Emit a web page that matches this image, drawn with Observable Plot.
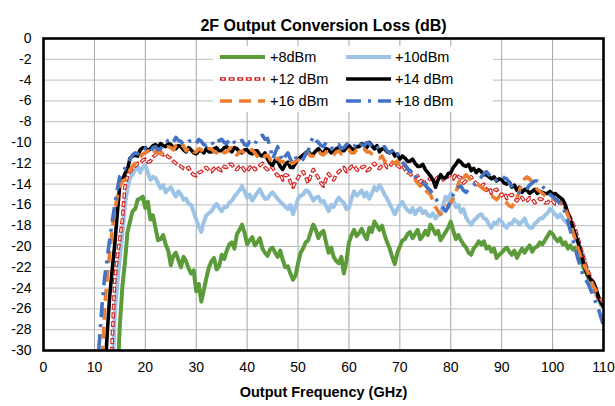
<!DOCTYPE html>
<html><head><meta charset="utf-8">
<script src="https://cdn.jsdelivr.net/npm/d3@7"></script>
<script src="https://cdn.jsdelivr.net/npm/@observablehq/plot@0.6"></script>
<style>
body{margin:0;background:#fff}
#chart{position:relative;width:615px;height:406px}
</style>
</head><body><div id="chart"></div>
<script>
const title = "2F Output Conversion Loss (dB)";
const xLabel = "Output Frequency (GHz)";
const xTicks = [0,10,20,30,40,50,60,70,80,90,100,110];
const yTicks = [0,-2,-4,-6,-8,-10,-12,-14,-16,-18,-20,-22,-24,-26,-28,-30];
const seriesNames = ["+8dBm","+10dBm","+12 dBm","+14 dBm","+16 dBm","+18 dBm"];

const freq = [10,10.5,11,11.5,12,12.5,13,13.5,14,14.5,15,15.5,16,16.5,17,17.5,18,18.5,19,19.5,
 20,20.5,21,21.5,22,22.5,23,23.5,24,24.5,25,25.5,26,26.5,27,27.5,28,28.5,29,29.5,
 30,30.5,31,31.5,32,32.5,33,33.5,34,34.5,35,35.5,36,36.5,37,37.5,38,38.5,39,39.5,
 40,40.5,41,41.5,42,42.5,43,43.5,44,44.5,45,45.5,46,46.5,47,47.5,48,48.5,49,49.5,
 50,50.5,51,51.5,52,52.5,53,53.5,54,54.5,55,55.5,56,56.5,57,57.5,58,58.5,59,59.5,
 60,60.5,61,61.5,62,62.5,63,63.5,64,64.5,65,65.5,66,66.5,67,67.5,68,68.5,69,69.5,
 70,70.5,71,71.5,72,72.5,73,73.5,74,74.5,75,75.5,76,76.5,77,77.5,78,78.5,79,79.5,
 80,80.5,81,81.5,82,82.5,83,83.5,84,84.5,85,85.5,86,86.5,87,87.5,88,88.5,89,89.5,
 90,90.5,91,91.5,92,92.5,93,93.5,94,94.5,95,95.5,96,96.5,97,97.5,98,98.5,99,99.5,
 100,100.5,101,101.5,102,102.5,103,103.5,104,104.5,105,105.5,106,106.5,107,107.5,108,108.5,109,109.5,110];

const p8 = [null,null,null,null,null,null,null,null,-40,-33,-27.5,-23.8,-21.5,-18.6,-17.6,-16.6,-16.4,-15.5,-15.4,-15.2,
 -16.3,-15.7,-17.4,-17.0,-18.2,-19.4,-19.3,-18.9,-19.8,-20.4,-21.8,-20.9,-20.6,-21.3,-22.0,-21.0,-21.4,-22.1,-22.6,-22.3,
 -24.3,-23.6,-25.3,-24.2,-23.0,-22.0,-21.4,-21.1,-22.2,-21.9,-20.8,-21.2,-20.4,-19.8,-19.6,-20.2,-18.8,-18.4,-17.9,-18.7,
 -19.8,-19.4,-19.1,-19.9,-19.6,-19.2,-20.2,-20.6,-20.9,-20.3,-20.1,-20.6,-21.0,-20.4,-21.3,-22.0,-21.9,-22.6,-23.2,-22.8,
 -21.6,-20.6,-20.2,-19.6,-19.4,-18.6,-17.9,-18.4,-19.2,-18.7,-18.5,-19.6,-20.6,-20.1,-21.0,-21.4,-21.6,-21.0,-22.6,-21.4,
 -19.6,-18.9,-18.4,-19.0,-18.7,-18.3,-18.9,-19.3,-18.2,-18.6,-17.6,-18.0,-18.4,-18.0,-18.9,-19.6,-20.2,-21.0,-21.7,-20.6,
 -20.0,-19.4,-19.3,-18.8,-18.6,-19.2,-18.8,-18.4,-19.3,-19.0,-18.5,-18.9,-17.9,-18.3,-18.8,-18.5,-19.4,-19.0,-18.6,-18.2,
 -17.6,-18.5,-19.3,-18.9,-19.4,-19.8,-20.1,-20.6,-20.8,-20.2,-19.9,-19.5,-19.8,-19.5,-20.2,-20.0,-20.5,-20.2,-21.1,-20.8,
 -20.6,-20.3,-20.1,-20.5,-20.8,-20.4,-21.1,-20.6,-20.2,-20.6,-20.2,-19.9,-20.5,-20.1,-20.0,-19.6,-19.8,-19.4,-19.0,-18.6,
 -18.8,-19.2,-19.5,-19.2,-19.8,-19.6,-20.2,-19.9,-20.3,-20.1,-20.6,-21.0,-22.0,-22.4,-23.0,-23.8,-24.2,-24.5,-25.0,-25.6,-25.8];

const p10 = [null,null,null,null,null,null,-40,-33,-26.5,-23.6,-21.0,-18.8,-16.0,-14.4,-13.4,-13.1,-12.6,-12.3,-12.9,-12.4,
 -12.2,-12.9,-13.6,-13.3,-13.4,-13.9,-14.4,-14.1,-14.8,-14.5,-14.3,-14.8,-15.2,-14.7,-15.0,-15.5,-15.4,-15.9,-16.0,-16.7,
 -17.4,-18.1,-18.6,-17.6,-17.0,-16.8,-16.6,-16.2,-15.9,-16.3,-16.6,-16.2,-16.2,-15.8,-15.6,-15.2,-14.9,-14.6,-14.2,-14.7,
 -15.3,-15.0,-15.6,-15.2,-14.8,-14.5,-15.0,-15.4,-15.4,-15.0,-14.8,-15.1,-15.4,-15.7,-15.9,-16.2,-16.4,-16.0,-16.9,-16.2,
 -15.4,-15.1,-15.0,-14.6,-14.7,-15.1,-15.6,-15.3,-15.2,-15.7,-15.6,-16.1,-16.6,-16.0,-16.2,-15.7,-15.3,-15.6,-15.8,-16.4,
 -16.3,-15.4,-14.7,-15.1,-14.9,-14.6,-15.2,-14.8,-15.4,-14.9,-14.3,-14.6,-14.1,-14.5,-15.0,-15.4,-15.9,-16.4,-16.9,-16.4,
 -16.0,-15.7,-16.2,-16.5,-16.7,-16.3,-16.9,-16.5,-16.3,-16.8,-16.6,-17.0,-17.1,-16.8,-17.3,-17.0,-16.9,-16.0,-15.2,-15.6,
 -14.9,-15.6,-16.2,-16.0,-16.7,-16.4,-17.2,-17.6,-17.9,-17.5,-17.3,-17.0,-16.9,-17.3,-17.4,-17.9,-18.2,-17.7,-17.8,-17.4,
 -17.6,-18.0,-18.2,-17.8,-17.8,-17.4,-17.6,-17.9,-17.6,-17.3,-17.9,-18.2,-18.2,-17.8,-17.6,-17.3,-17.3,-17.0,-16.8,-16.4,
 -16.6,-16.9,-17.2,-16.9,-17.3,-17.6,-17.8,-18.2,-18.6,-19.0,-19.6,-20.2,-20.8,-21.6,-22.6,-23.3,-24.0,-24.5,-25.0,-25.5,-25.8];

const p12 = [null,null,null,null,null,null,-36,-29,-23.2,-21.0,-19.2,-17.4,-14.2,-13.2,-12.8,-12.5,-12.3,-12.0,-12.0,-11.7,
 -11.6,-11.9,-11.8,-11.4,-11.2,-11.0,-10.9,-11.2,-11.1,-11.4,-11.5,-11.8,-12.0,-12.2,-12.3,-12.5,-12.6,-12.4,-12.9,-13.1,
 -13.2,-12.9,-12.8,-12.5,-12.4,-12.7,-12.8,-12.5,-12.3,-12.6,-12.7,-12.3,-12.4,-12.1,-12.1,-12.5,-12.6,-12.3,-12.3,-12.7,
 -12.8,-12.4,-12.2,-12.6,-12.5,-12.2,-12.0,-12.4,-12.6,-12.3,-12.4,-12.9,-13.2,-13.0,-13.6,-13.1,-13.2,-13.8,-14.3,-13.8,
 -13.4,-13.0,-12.8,-13.3,-13.9,-13.2,-12.6,-13.0,-13.4,-13.9,-14.2,-13.5,-13.0,-13.4,-13.6,-13.1,-12.8,-12.6,-12.4,-12.8,
 -12.6,-12.3,-12.2,-12.6,-12.7,-12.4,-12.3,-12.7,-12.6,-12.2,-12.0,-12.4,-12.5,-12.2,-12.0,-12.4,-12.3,-12.0,-11.9,-12.2,
 -12.4,-12.2,-12.6,-12.9,-13.0,-13.3,-13.4,-13.2,-13.8,-13.5,-14.0,-13.7,-13.4,-13.7,-13.6,-13.3,-13.2,-13.6,-13.5,-13.2,
 -13.2,-13.5,-13.0,-13.3,-13.4,-13.9,-13.7,-13.4,-13.3,-13.7,-13.9,-14.3,-14.2,-14.0,-14.6,-14.3,-14.9,-14.6,-14.5,-14.9,
 -15.1,-14.8,-15.4,-15.1,-15.0,-15.4,-15.6,-15.2,-15.3,-15.7,-15.6,-15.3,-15.4,-15.8,-15.7,-15.4,-15.5,-15.8,-15.8,-15.5,
 -15.6,-15.9,-15.9,-15.7,-16.0,-16.3,-16.8,-17.2,-17.8,-18.4,-19.2,-20.1,-21.0,-21.8,-22.4,-23.0,-23.6,-24.4,-25.0,-25.3,-25.6];

const p14 = [null,null,null,null,-33,-28.5,-24.8,-22.2,-19.8,-16.8,-14.0,-13.6,-13.0,-12.6,-11.5,-11.3,-11.2,-11.3,-10.7,-10.5,
 -10.5,-10.8,-10.6,-10.3,-10.2,-10.5,-10.1,-10.3,-10.4,-10.1,-10.2,-10.5,-10.6,-10.3,-10.4,-10.7,-10.9,-10.5,-10.7,-11.0,
 -11.1,-10.8,-10.8,-11.0,-10.6,-10.9,-10.9,-10.6,-10.5,-10.8,-10.8,-10.5,-10.4,-10.7,-10.9,-10.5,-10.6,-10.9,-11.0,-10.7,
 -10.7,-11.0,-11.1,-10.8,-10.8,-11.2,-11.3,-11.0,-11.6,-12.0,-12.2,-11.7,-11.8,-12.3,-12.6,-12.1,-11.9,-12.4,-12.4,-12.0,
 -11.6,-11.4,-11.2,-11.0,-10.8,-11.2,-11.1,-10.8,-10.6,-10.9,-11.0,-10.6,-10.7,-11.0,-10.9,-10.6,-10.5,-10.8,-10.8,-10.5,
 -10.3,-10.6,-10.7,-10.4,-10.4,-10.1,-10.2,-10.5,-10.0,-10.3,-10.6,-10.3,-10.9,-10.6,-10.6,-10.9,-11.0,-10.8,-11.3,-11.1,
 -11.6,-11.3,-11.5,-11.8,-11.8,-11.6,-12.0,-12.3,-12.3,-12.1,-12.6,-12.9,-13.2,-13.6,-14.3,-13.6,-13.1,-13.4,-13.4,-13.0,
 -12.9,-12.4,-12.1,-11.7,-11.9,-12.2,-12.3,-12.1,-12.7,-12.5,-12.9,-12.6,-12.8,-13.1,-13.1,-13.3,-13.5,-13.3,-13.7,-13.5,
 -13.6,-13.9,-14.0,-13.8,-14.3,-14.1,-14.6,-14.3,-14.8,-14.5,-14.6,-14.9,-14.7,-14.5,-14.9,-14.7,-14.8,-14.9,-14.9,-14.7,
 -15.0,-14.9,-15.1,-15.3,-15.5,-16.0,-16.8,-17.4,-18.2,-18.9,-19.6,-20.5,-21.5,-22.3,-22.8,-23.2,-23.4,-24.0,-24.8,-25.4,-25.8];

const p16 = [null,null,-38,-31.5,-26.0,-23.0,-20.6,-18.4,-16.6,-15.2,-14.2,-13.7,-13.6,-13.2,-12.6,-12.3,-12.0,-11.8,-11.4,-11.1,
 -11.0,-10.8,-10.9,-11.2,-10.8,-11.0,-11.1,-10.8,-10.7,-10.4,-10.5,-10.7,-10.3,-10.5,-10.6,-10.3,-10.8,-10.5,-10.6,-10.9,
 -10.9,-10.6,-10.7,-11.0,-10.9,-10.6,-10.6,-10.9,-11.0,-10.7,-10.7,-11.0,-10.9,-10.6,-10.5,-10.8,-11.2,-10.9,-10.8,-11.1,
 -11.0,-10.8,-10.7,-11.0,-11.3,-11.6,-11.6,-11.3,-11.2,-11.6,-12.0,-11.7,-11.5,-11.8,-11.9,-11.6,-11.6,-11.9,-12.0,-11.8,
 -11.7,-11.4,-11.4,-11.1,-11.0,-11.3,-11.3,-11.0,-10.8,-11.1,-11.2,-10.9,-10.9,-11.2,-11.2,-10.9,-10.8,-11.1,-11.1,-10.9,
 -10.7,-11.0,-11.0,-10.7,-10.8,-10.6,-10.6,-10.9,-10.9,-11.1,-11.2,-11.4,-11.5,-11.3,-11.8,-11.5,-11.6,-11.9,-12.0,-11.8,
 -12.2,-11.9,-12.1,-12.5,-12.7,-13.1,-13.6,-13.9,-14.2,-14.0,-14.6,-14.8,-15.0,-15.6,-16.2,-16.6,-16.9,-16.6,-16.2,-16.0,
 -15.8,-15.3,-14.8,-14.0,-13.2,-13.4,-13.1,-13.4,-13.6,-13.8,-13.9,-14.1,-14.3,-14.5,-14.6,-14.9,-15.1,-15.3,-15.5,-15.2,
 -15.3,-15.6,-15.8,-16.1,-16.2,-15.8,-15.4,-14.6,-13.8,-13.5,-13.3,-13.5,-13.8,-14.2,-14.5,-14.7,-14.9,-15.1,-15.2,-15.3,
 -15.4,-15.5,-15.6,-15.8,-16.0,-16.4,-17.0,-17.8,-18.6,-19.4,-20.2,-20.9,-21.6,-22.1,-22.6,-23.2,-23.8,-24.2,-24.6,-25.0,-25.4];

const p18 = [-36,-32,-29.0,-25.6,-23.0,-21.2,-19.3,-17.6,-16.0,-14.5,-13.2,-12.8,-12.5,-12.0,-11.6,-11.2,-11.0,-11.1,-10.8,-10.5,
 -10.6,-10.9,-10.9,-10.5,-10.4,-10.7,-10.6,-10.2,-10.0,-9.8,-9.7,-10.0,-9.5,-9.8,-9.9,-10.2,-10.2,-9.9,-9.8,-10.1,
 -10.1,-9.7,-9.9,-10.2,-10.3,-10.0,-9.9,-10.3,-10.2,-9.8,-9.7,-10.0,-10.1,-9.7,-9.6,-10.0,-10.2,-9.9,-9.8,-10.2,
 -10.3,-9.9,-9.9,-10.2,-9.6,-9.4,-9.3,-9.7,-9.6,-10.4,-11.6,-11.0,-10.4,-11.2,-11.8,-11.3,-11.0,-11.6,-12.0,-11.5,
 -11.4,-11.8,-11.6,-11.1,-10.8,-10.0,-9.4,-9.8,-10.0,-10.3,-10.4,-10.0,-10.1,-10.5,-10.6,-10.2,-10.2,-10.6,-10.5,-10.2,
 -10.0,-10.3,-10.4,-10.1,-9.9,-10.2,-10.3,-10.0,-10.1,-10.4,-10.5,-10.3,-10.8,-10.5,-10.4,-10.8,-11.0,-10.8,-11.3,-11.1,
 -11.6,-11.9,-12.2,-12.5,-12.8,-12.6,-13.2,-13.5,-13.6,-13.9,-14.1,-14.4,-14.6,-15.0,-15.4,-15.7,-16.0,-16.3,-16.6,-16.2,
 -15.6,-15.0,-14.6,-14.3,-14.2,-14.6,-14.8,-14.5,-14.3,-14.1,-13.9,-13.6,-13.3,-13.0,-12.8,-13.1,-13.4,-13.7,-13.6,-13.4,
 -13.2,-13.4,-13.5,-13.9,-14.2,-14.4,-14.6,-14.8,-14.9,-14.6,-14.4,-14.1,-13.9,-13.7,-13.7,-14.0,-14.2,-14.5,-14.8,-15.0,
 -15.2,-15.4,-15.6,-15.9,-16.2,-16.8,-17.6,-18.5,-19.4,-20.3,-21.2,-22.0,-22.8,-23.2,-23.6,-24.2,-24.8,-25.4,-26.0,-26.8,-27.6];

const seriesValues = [p8, p10, p12, p14, p16, p18];

// styles (kept separate from data)
const styles = [
  {stroke:"#5b9b3a", width:4},
  {stroke:"#9dc3e6", width:4},
  {stroke:"#d42020", width:3.6, dash:"6,2.6", inner:{stroke:"#fff", width:1.4, dash:"2.6,6", offset:-1.7}},
  {stroke:"#000000", width:3.6},
  {stroke:"#ed7d31", width:3.6, dash:"12,7"},
  {stroke:"#4472c4", width:3.6, dash:"15,7,3,7"}
];

const rowsFor = (vals) => freq.map((f,i) => ({f, v: vals[i]})).filter(d => d.v != null);

const lineMarks = [];
seriesValues.forEach((vals, k) => {
  const st = styles[k];
  const data = rowsFor(vals);
  lineMarks.push(Plot.line(data, {x:"f", y:"v", stroke:st.stroke, strokeWidth:st.width,
    strokeDasharray:st.dash, strokeLinejoin:"round", strokeLinecap: st.dash ? "butt" : "round", clip:true}));
  if (st.inner) {
    lineMarks.push(Plot.line(data, {x:"f", y:"v", stroke:st.inner.stroke, strokeWidth:st.inner.width,
      strokeDasharray:st.inner.dash, strokeDashoffset:st.inner.offset, strokeLinejoin:"round", clip:true}));
  }
});

const chart = Plot.plot({
  width:615, height:406,
  marginLeft:43, marginRight:12, marginTop:38, marginBottom:56,
  style:{fontFamily:"'Liberation Sans', Arial, sans-serif", fontSize:"14px", color:"#000", background:"#fff"},
  x:{domain:[0,110], ticks:xTicks, tickSize:0, tickPadding:12, label:null, tickFormat:d=>String(d)},
  y:{domain:[-30,0], ticks:yTicks, tickSize:0, tickPadding:12, label:null, tickFormat:d=>String(d)},
  marks:[
    Plot.gridX(xTicks, {stroke:"#a6a6a6", strokeOpacity:1, strokeWidth:1}),
    Plot.gridY(yTicks, {stroke:"#bdbdbd", strokeOpacity:1, strokeWidth:1}),
    ...lineMarks,
    Plot.frame({stroke:"#000", strokeWidth:2.6}),
    Plot.text([title], {text:d=>d, frameAnchor:"top", dy:-19, fontWeight:"bold", fontSize:16}),
    Plot.text([xLabel], {text:d=>d, frameAnchor:"bottom", dy:46, fontWeight:"bold", fontSize:14.5})
  ]
});
document.getElementById("chart").appendChild(chart);

// legend (inside plot area)
const svg = d3.select(chart);
const lg = svg.append("g").attr("class","legend").attr("text-anchor","start");
lg.append("rect").attr("x",213).attr("y",46).attr("width",280).attr("height",66).attr("fill","#fff");
const cols = [[220,265,270],[346,391,395]];
const rowsY = [57,79,101];
seriesNames.forEach((name, k) => {
  const c = cols[k % 2], y = rowsY[Math.floor(k/2)], st = styles[k];
  lg.append("line").attr("x1",c[0]).attr("x2",c[1]).attr("y1",y).attr("y2",y)
    .attr("stroke",st.stroke).attr("stroke-width",st.width)
    .attr("stroke-dasharray",st.dash || null);
  if (st.inner) {
    lg.append("line").attr("x1",c[0]).attr("x2",c[1]).attr("y1",y).attr("y2",y)
      .attr("stroke",st.inner.stroke).attr("stroke-width",st.inner.width)
      .attr("stroke-dasharray",st.inner.dash).attr("stroke-dashoffset",st.inner.offset);
  }
  lg.append("text").attr("x",c[2]).attr("y",y).attr("dy","0.35em").attr("text-anchor","start")
    .attr("font-size",14.5).attr("fill","#000").text(name);
});
</script>
</body></html>
